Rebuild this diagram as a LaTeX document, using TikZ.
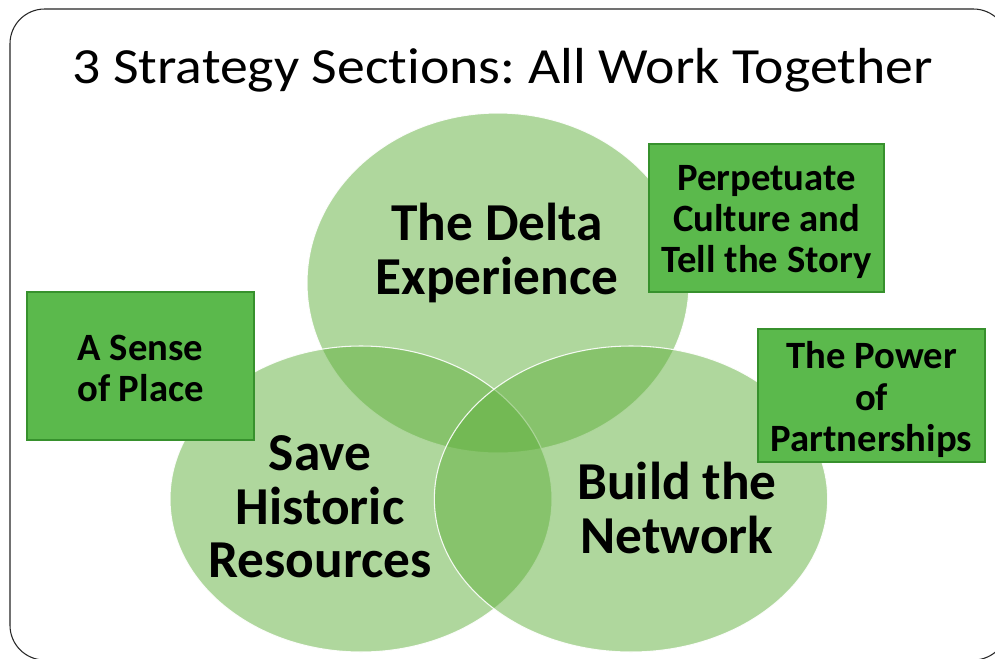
\documentclass[tikz,border=0pt]{standalone}
\usepackage{fontspec}
\setmainfont{Carlito}
\definecolor{cg}{RGB}{97,177,61}
\definecolor{boxfill}{RGB}{91,185,76}
\definecolor{boxline}{RGB}{55,145,45}
\tikzset{
  venn/.style={fill=cg, fill opacity=0.5, draw=white, draw opacity=0.9, line width=0.8pt},
  lbl/.style={align=center, font=\bfseries\fontsize{40}{40}\selectfont, text=black, inner sep=0pt},
  greenbox/.style={draw=boxline, fill=boxfill, line width=0.8pt, inner sep=0pt},
  boxtext/.style={align=center, inner sep=0pt, font=\bfseries\fontsize{29}{31}\selectfont, text=black},
}
\begin{document}
\frenchspacing
\begin{tikzpicture}[x=0.75pt,y=-0.75pt]
\useasboundingbox (0,0) rectangle (995,658);
\clip (0,0) rectangle (995,658);
\fill[white] (0,0) rectangle (995,658);
\draw[line width=0.8pt, draw=black!85, rounded corners=26pt] (10,9) rectangle (1008,660);
\node[font=\fontsize{38}{44}\selectfont, inner sep=0pt, anchor=base] (title) at (502.5,83) {\scalebox{1.1}[1]{\addfontfeature{Ligatures=NoCommon}3 Strategy Sections: All Work Together}};
\path[venn] (498,283) ellipse [x radius=143.25pt, y radius=127.5pt];
\path[venn] (361,499) ellipse [x radius=143.25pt, y radius=114.75pt];
\path[venn] (631,499) ellipse [x radius=147.5pt, y radius=114.75pt];
\node[lbl] (delta) at (497,253) {The Delta\\Experience};
\node[lbl] (save) at (320,507) {Save\\Historic\\Resources};
\node[lbl] (build) at (677,508) {Build the\\Network};
\node[greenbox, minimum width=176.25pt, minimum height=111pt] (perp) at (766.5,218) {};
\node[greenbox, minimum width=170.25pt, minimum height=111pt] (sense) at (140.5,366) {};
\node[greenbox, minimum width=170.25pt, minimum height=99.75pt] (power) at (871.5,395.5) {};
\node[boxtext] (perpt) at ([yshift=-3pt]perp.center) {Perpetuate\\Culture and\\Tell the Story};
\node[boxtext] (senset) at ([yshift=-2pt]sense.center) {A Sense\\of Place};
\node[boxtext] (powert) at ([yshift=-3pt]power.center) {The Power\\of\\Partnerships};
\end{tikzpicture}
\end{document}
